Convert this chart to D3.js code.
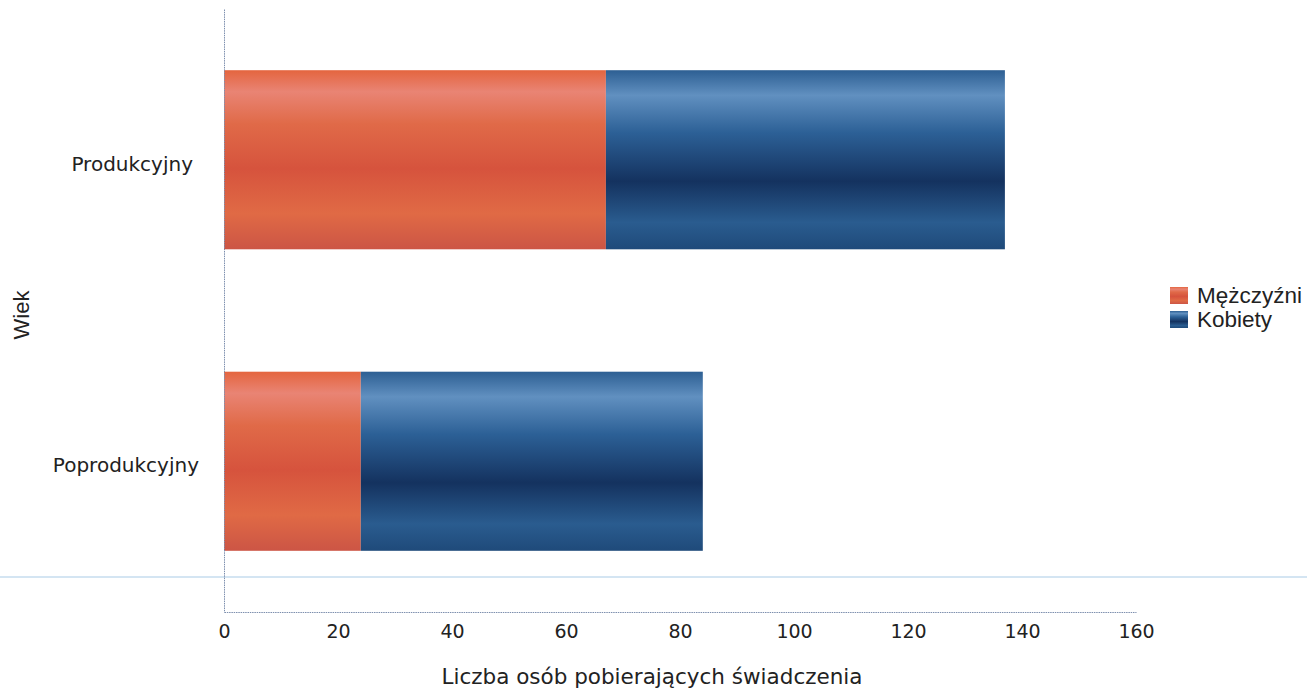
<!DOCTYPE html>
<html><head><meta charset="utf-8">
<script src="https://cdn.jsdelivr.net/npm/d3@7/dist/d3.min.js"></script>
<style>body{margin:0;background:#fff}svg{display:block}text{font-family:"DejaVu Sans",sans-serif;fill:#222}</style>
</head><body><svg id="c" width="1307" height="691"></svg>
<script>
const categories = ["Produkcyjny", "Poprodukcyjny"];
const seriesNames = ["Mężczyźni", "Kobiety"];
const men = [67, 24];
const women = [70, 60];
const xTicks = [0, 20, 40, 60, 80, 100, 120, 140, 160];

const svg = d3.select("#c");
const m = {l: 224, r: 1136, t: 9, b: 612};
const x = d3.scaleLinear().domain([0, 160]).range([m.l, m.r]);
const y = d3.scaleBand().domain(categories).range([m.t, m.b]).paddingInner(0.406).paddingOuter(0.203);

const defs = svg.append("defs");
const gradStops = {
  "Mężczyźni": [[0,"#e4653f"],[0.12,"#e98474"],[0.3,"#e06a48"],[0.55,"#d6533d"],[0.8,"#e06a45"],[1,"#cc5545"]],
  "Kobiety": [[0,"#2d5f93"],[0.14,"#6190c0"],[0.35,"#2c6096"],[0.62,"#14325f"],[0.85,"#2a5c8f"],[1,"#1f4a7a"]]
};
seriesNames.forEach((s,i)=>{
  const g = defs.append("linearGradient").attr("id","g"+i).attr("x1",0).attr("x2",0).attr("y1",0).attr("y2",1);
  gradStops[s].forEach(([o,c])=>g.append("stop").attr("offset",o).attr("stop-color",c));
});

const data = categories.map((c,i)=>({cat:c, "Mężczyźni":men[i], "Kobiety":women[i]}));
const stack = d3.stack().keys(seriesNames)(data);

// scan line
svg.append("line").attr("x1",0).attr("x2",1307).attr("y1",577).attr("y2",577)
  .attr("stroke","#a9cbe6").attr("stroke-width",1);

stack.forEach((layer,i)=>{
  svg.append("g").selectAll("rect").data(layer).join("rect")
    .attr("x",d=>x(d[0])).attr("width",d=>x(d[1])-x(d[0]))
    .attr("y",d=>y(d.data.cat)).attr("height",y.bandwidth())
    .attr("fill","url(#g"+i+")");
});

// axes
const xAxis = svg.append("g").attr("transform",`translate(0,${m.b})`)
  .call(d3.axisBottom(x).tickValues(xTicks).tickSize(0).tickPadding(13));
xAxis.select(".domain").attr("stroke","#7d8fae").attr("stroke-dasharray","1.5,0.8");
xAxis.selectAll("text").style("font-size","19px").attr("fill","#222");

const yAxis = svg.append("g").attr("transform",`translate(${m.l},0)`)
  .call(d3.axisLeft(y).tickSize(0).tickPadding(28));
yAxis.select(".domain").attr("stroke","#7d8fae").attr("stroke-dasharray","1.5,0.8");
yAxis.selectAll("text").style("font-size","20px").attr("fill","#222");
yAxis.selectAll(".tick text").attr("dx", (d,i)=> i===1 ? 3 : -3).attr("dy","0.55em");

svg.append("text").attr("x",652).attr("y",684).attr("text-anchor","middle")
  .style("font-size","21.5px").text("Liczba osób pobierających świadczenia");
svg.append("text").attr("transform","translate(29,315) rotate(-90)").attr("text-anchor","middle")
  .style("font-family","'Liberation Sans',Arial,sans-serif").style("font-size","22px").text("Wiek");

// legend
const lg = svg.append("g").attr("transform","translate(1170,287)");
seriesNames.forEach((s,i)=>{
  lg.append("rect").attr("x",0).attr("y",i*24).attr("width",18).attr("height",17).attr("fill","url(#g"+i+")");
  lg.append("text").attr("x",27).attr("y",i*24+16).style("font-family","'Liberation Sans',Arial,sans-serif")
    .style("font-size","22.5px").text(s);
});
</script></body></html>
